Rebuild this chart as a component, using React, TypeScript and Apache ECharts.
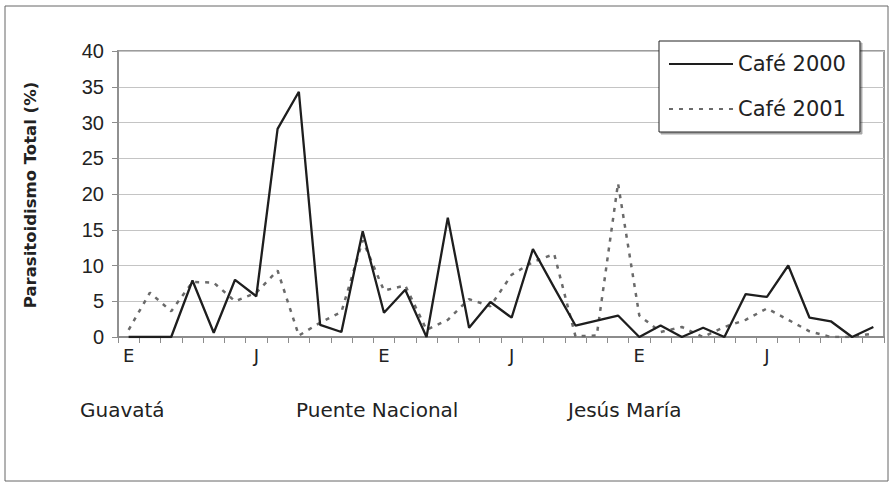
import React, { useEffect, useRef } from "react";
import * as echarts from "echarts";

const months = ["E", "F", "M", "A", "M", "J", "J", "A", "S", "O", "N", "D"];
const categories = [...months, ...months, ...months];
const shownMonthLabels = ["E", "J"];
const sites = ["Guavatá", "Puente Nacional", "Jesús María"];
const yTicks = { min: 0, max: 40, interval: 5 };

const cafe2000 = [
  0, 0, 0, 7.9, 0.6, 8.0, 5.7, 29.1, 34.3, 1.7, 0.7, 14.8,
  3.4, 6.6, 0, 16.7, 1.3, 4.9, 2.7, 12.3, 6.9, 1.6, 2.3, 3.0,
  0, 1.6, 0, 1.3, 0, 6.0, 5.6, 10.0, 2.7, 2.2, 0, 1.4,
];
const cafe2001 = [
  1.0, 6.2, 3.6, 7.7, 7.6, 5.0, 6.2, 9.3, 0.2, 2.0, 3.5, 13.5,
  6.5, 7.2, 1.0, 2.4, 5.3, 4.3, 8.7, 10.5, 11.6, 0.1, 0.2, 21.5,
  3.0, 0.7, 1.4, 0, 1.4, 2.4, 4.0, 2.4, 0.8, 0, 0, 0.5,
];
const seriesNames = ["Café 2000", "Café 2001"];
const yTitle = "Parasitoidismo Total (%)";

const FONT = "DejaVu Sans";

export default function App() {
  const ref = useRef<HTMLDivElement>(null);
  useEffect(() => {
    document.body.style.margin = "0";
    const chart = echarts.init(ref.current!, null, { renderer: "svg" });
    const sitePos = [80, 296, 568];
    chart.setOption({
      animation: false,
      backgroundColor: "#ffffff",
      grid: {
        left: 118,
        right: 12,
        top: 51,
        bottom: 147,
        show: true,
        borderColor: "#9c9c9c",
        borderWidth: 2,
        backgroundColor: "transparent",
      },
      legend: {
        orient: "vertical",
        left: 659,
        top: 41,
        padding: [11, 14, 11, 9],
        itemWidth: 64,
        itemHeight: 20,
        itemGap: 21,
        backgroundColor: "#ffffff",
        borderColor: "#222",
        borderWidth: 1,
        shadowColor: "rgba(0,0,0,0.35)",
        shadowOffsetX: 2,
        shadowOffsetY: 2,
        shadowBlur: 0,
        itemStyle: { opacity: 0 },
        textStyle: { fontFamily: FONT, fontSize: 21, color: "#222", lineHeight: 24 },
        data: seriesNames,
      },
      xAxis: {
        type: "category",
        data: categories,
        boundaryGap: true,
        axisLine: { lineStyle: { color: "#8c8c8c", width: 2 } },
        axisTick: { show: true, interval: 0, length: 6, lineStyle: { color: "#8c8c8c" } },
        axisLabel: {
          interval: (i: number, v: string) => i % 6 === 0 && shownMonthLabels.includes(v),
          fontFamily: FONT,
          fontSize: 18,
          color: "#222",
          margin: 9,
        },
        splitLine: { show: false },
      },
      yAxis: {
        type: "value",
        min: yTicks.min,
        max: yTicks.max,
        interval: yTicks.interval,
        axisLine: { show: true, lineStyle: { color: "#8c8c8c", width: 1.5 } },
        axisTick: { show: true, length: 6, lineStyle: { color: "#8c8c8c" } },
        axisLabel: { fontFamily: "Liberation Sans", fontSize: 20, color: "#222", margin: 14 },
        splitLine: { lineStyle: { color: "#c4c4c4", width: 1 } },
      },
      series: [
        {
          name: seriesNames[0],
          type: "line",
          data: cafe2000,
          symbol: "none",
          lineStyle: { color: "#1e1e1e", width: 2.3 },
          itemStyle: { color: "#1e1e1e" },
          z: 3,
        },
        {
          name: seriesNames[1],
          type: "line",
          data: cafe2001,
          symbol: "none",
          lineStyle: { color: "#6a6a6a", width: 2.5, type: [4, 6] },
          itemStyle: { color: "#6a6a6a" },
          z: 2,
        },
      ],
      graphic: [
        {
          type: "rect",
          shape: { x: 5, y: 6, width: 883, height: 475 },
          style: { fill: "none", stroke: "#666", lineWidth: 1 },
          silent: true,
          z: -1,
        },
        {
          type: "text",
          x: 30,
          y: 195,
          rotation: Math.PI / 2,
          style: {
            text: yTitle,
            fontFamily: FONT,
            fontWeight: "bold",
            fontSize: 16.5,
            fill: "#222",
            align: "center",
            verticalAlign: "middle",
          },
        },
        ...sites.map((s, i) => ({
          type: "text",
          x: sitePos[i],
          y: 410,
          style: {
            text: s,
            fontFamily: FONT,
            fontSize: 20,
            fill: "#222",
            align: "left",
            verticalAlign: "middle",
          },
        })),
      ],
    });
    return () => chart.dispose();
  }, []);
  return <div ref={ref} style={{ width: 896, height: 484 }} />;
}
